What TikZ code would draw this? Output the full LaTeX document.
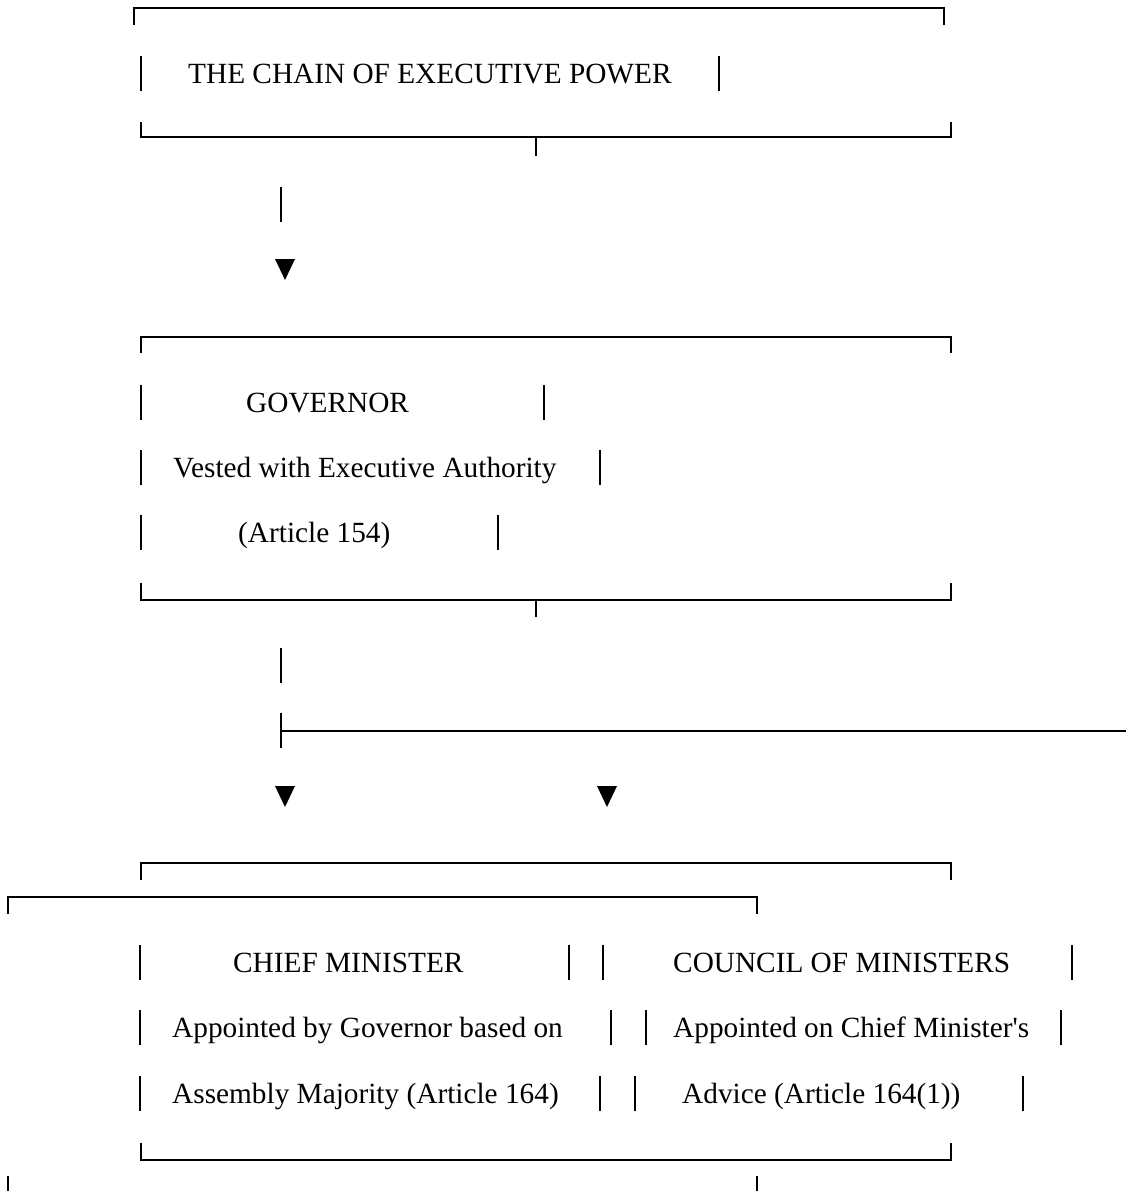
\documentclass[tikz,border=0pt]{standalone}
\usepackage{fontspec}
\setmainfont{Liberation Serif}[Ligatures=TeXOff]
\begin{document}
\begin{tikzpicture}[x=1pt,y=-1pt,
  boxline/.style={line width=2.7pt,line cap=butt,line join=miter},
  barline/.style={line width=2.2pt},
  txt/.style={anchor=base west,inner sep=0pt,font=\fontsize{29.3}{35}\selectfont},
  tri/.style={fill=black,draw=none}]
\useasboundingbox (0,0) rectangle (1126,1191);
\newcommand\vbarat[2]{\draw[barline] (#1,{#2-27}) -- (#1,{#2+8});}
\newcommand\downtri[2]{\fill[tri] ({#1-10},#2) -- ({#1+10},#2) -- (#1,{#2+21}) -- cycle;}
% ---- Box 1
\draw[boxline] (134,25) -- (134,8) -- (944,8) -- (944,25);
\vbarat{141}{83}\vbarat{719}{83}
\node[txt] (title) at (188,83) {THE CHAIN OF EXECUTIVE POWER};
\draw[boxline] (141,122) -- (141,137) -- (951,137) -- (951,122);
\coordinate (t1a) at (536,137); \coordinate (t1b) at (536,156);
\draw[barline] (t1a) -- (t1b);
% connector 1
\coordinate (c1a) at (281,187); \coordinate (c1b) at (281,222);
\draw[barline] (c1a) -- (c1b);
\downtri{285}{259}
% ---- Box 2
\draw[boxline] (141,353) -- (141,337) -- (951,337) -- (951,353);
\vbarat{141}{412}\vbarat{544}{412}
\node[txt] (gov) at (246,412) {GOVERNOR};
\vbarat{141}{477}\vbarat{600}{477}
\node[txt] (govb) at (173,477) {Vested with Executive Authority};
\vbarat{141}{542}\vbarat{498}{542}
\node[txt] (govc) at (238,542) {(Article 154)};
\draw[boxline] (141,583) -- (141,600) -- (951,600) -- (951,583);
\coordinate (t2a) at (536,600); \coordinate (t2b) at (536,617);
\draw[barline] (t2a) -- (t2b);
% connector 2
\coordinate (c2a) at (281,648); \coordinate (c2b) at (281,683);
\draw[barline] (c2a) -- (c2b);
\coordinate (c3a) at (281,713); \coordinate (c3b) at (281,748);
\coordinate (c3m) at (281,731); \coordinate (c3e) at (1127,731);
\draw[barline] (c3a) -- (c3b);
\draw[boxline] (c3m) -- (c3e);
\downtri{285}{786}
\downtri{607}{786}
% ---- Box 3
\draw[boxline] (141,880) -- (141,863) -- (951,863) -- (951,880);
\draw[boxline] (8,914) -- (8,897) -- (757,897) -- (757,914);
\vbarat{140}{972}\vbarat{569}{972}\vbarat{603}{972}\vbarat{1072}{972}
\node[txt] (cm) at (233,972) {CHIEF MINISTER};
\node[txt] (com) at (673,972) {COUNCIL OF MINISTERS};
\vbarat{140}{1037}\vbarat{611}{1037}\vbarat{646}{1037}\vbarat{1061}{1037}
\node[txt] (cmb) at (172,1037) {Appointed by Governor based on};
\node[txt] (comb) at (673,1037) {Appointed on Chief Minister's};
\vbarat{140}{1103}\vbarat{600}{1103}\vbarat{635}{1103}\vbarat{1023}{1103}
\node[txt] (cmc) at (172,1103) {Assembly Majority (Article 164)};
\node[txt] (comc) at (682,1103) {Advice (Article 164(1))};
\draw[boxline] (141,1143) -- (141,1160) -- (951,1160) -- (951,1143);
\coordinate (e1a) at (8,1176); \coordinate (e1b) at (8,1192);
\coordinate (e2a) at (757,1176); \coordinate (e2b) at (757,1192);
\draw[barline] (e1a) -- (e1b);
\draw[barline] (e2a) -- (e2b);
\end{tikzpicture}
\end{document}
